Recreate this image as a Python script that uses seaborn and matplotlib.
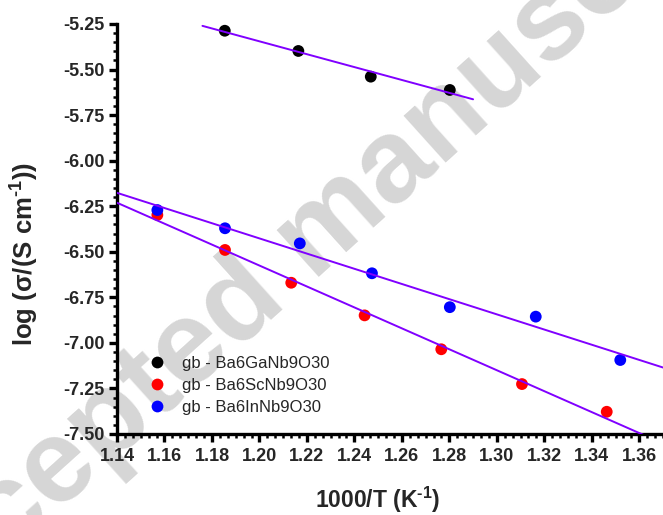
import numpy as np
import pandas as pd
import matplotlib
matplotlib.use("Agg")
import matplotlib.pyplot as plt
import seaborn as sns
from matplotlib.ticker import MultipleLocator, AutoMinorLocator, FormatStrFormatter

# ---- data ----
x_ga = [1.1854, 1.2164, 1.2469, 1.2802]
y_ga = [-5.287, -5.398, -5.539, -5.612]
x_sc = [1.157, 1.1855, 1.2134, 1.2443, 1.2766, 1.3106, 1.3463]
y_sc = [-6.298, -6.490, -6.670, -6.849, -7.035, -7.226, -7.378]
x_in = [1.157, 1.1855, 1.217, 1.2474, 1.2802, 1.3164, 1.352]
y_in = [-6.271, -6.371, -6.454, -6.618, -6.804, -6.856, -7.094]
labels = ["gb - Ba6GaNb9O30", "gb - Ba6ScNb9O30", "gb - Ba6InNb9O30"]
colors = ["#000000", "#ff0000", "#0000ff"]
fit_ranges = [(1.176, 1.290), (1.14, 1.37), (1.14, 1.37)]

sns.set_theme(style="ticks")
plt.rcParams["font.family"] = ["Liberation Sans", "DejaVu Sans"]
plt.rcParams["mathtext.fontset"] = "custom"
plt.rcParams["mathtext.rm"] = "Liberation Sans:bold"
plt.rcParams["mathtext.bf"] = "Liberation Sans:bold"
plt.rcParams["mathtext.it"] = "Liberation Sans:bold"

df = pd.concat([
    pd.DataFrame({"x": xs, "y": ys, "series": lab})
    for xs, ys, lab in [(x_ga, y_ga, labels[0]), (x_sc, y_sc, labels[1]), (x_in, y_in, labels[2])]
], ignore_index=True)

fig = plt.figure(figsize=(6.63, 5.15), dpi=100)
ax = fig.add_axes([117 / 663, 81 / 515, 546 / 663, 410 / 515])
ax.patch.set_alpha(0)

# watermark
fig.text(0.483, 0.544, "Accepted manuscript", rotation=42, ha="center", va="center",
         fontsize=85, fontweight="bold", color="#d6d6d6", zorder=-1)

sns.scatterplot(data=df, x="x", y="y", hue="series", hue_order=labels,
                palette=colors, s=72, edgecolor="none", linewidth=0, ax=ax, zorder=2)

for xs, ys, (a, b) in zip([x_ga, x_sc, x_in], [y_ga, y_sc, y_in], fit_ranges):
    k, c = np.polyfit(xs, ys, 1)
    xx = np.array([a, b])
    ax.plot(xx, k * xx + c, color="#8000ff", lw=1.4, zorder=3, clip_on=True)

ax.set_xlim(1.14, 1.37)
ax.set_ylim(-7.5, -5.25)
ax.xaxis.set_major_locator(MultipleLocator(0.02))
ax.xaxis.set_minor_locator(AutoMinorLocator(6))
ax.yaxis.set_major_locator(MultipleLocator(0.25))
ax.yaxis.set_minor_locator(AutoMinorLocator(5))
ax.xaxis.set_major_formatter(FormatStrFormatter("%.2f"))
ax.yaxis.set_major_formatter(FormatStrFormatter("%.2f"))

for s in ["top", "right"]:
    ax.spines[s].set_visible(False)
for s in ["left", "bottom"]:
    ax.spines[s].set_linewidth(2.4)
    ax.spines[s].set_color("black")

ax.tick_params(which="major", direction="out", length=6, width=2.4, color="black",
               labelsize=13, pad=3)
ax.tick_params(which="minor", direction="out", length=3, width=1.8, color="black")
for lab in ax.get_xticklabels() + ax.get_yticklabels():
    lab.set_fontweight("bold")
ax.tick_params(axis="x", which="major", pad=4)

ax.set_xlabel(r"1000/T (K$^{\text{-}1}$)", fontsize=16.5, fontweight="bold")
ax.set_ylabel(r"log ($\sigma$/(S cm$^{\text{-}1}$))", fontsize=18.5, fontweight="bold")
ax.xaxis.set_label_coords(0.478, -0.125)
ax.yaxis.set_label_coords(-0.14, 0.44)

leg = ax.legend(loc="lower left", bbox_to_anchor=(0.03, 0.009), frameon=False,
                fontsize=12, handlelength=1.0, handletextpad=1.0, labelspacing=0.43,
                markerscale=1.0)

fig.savefig("out.png", dpi=100)
